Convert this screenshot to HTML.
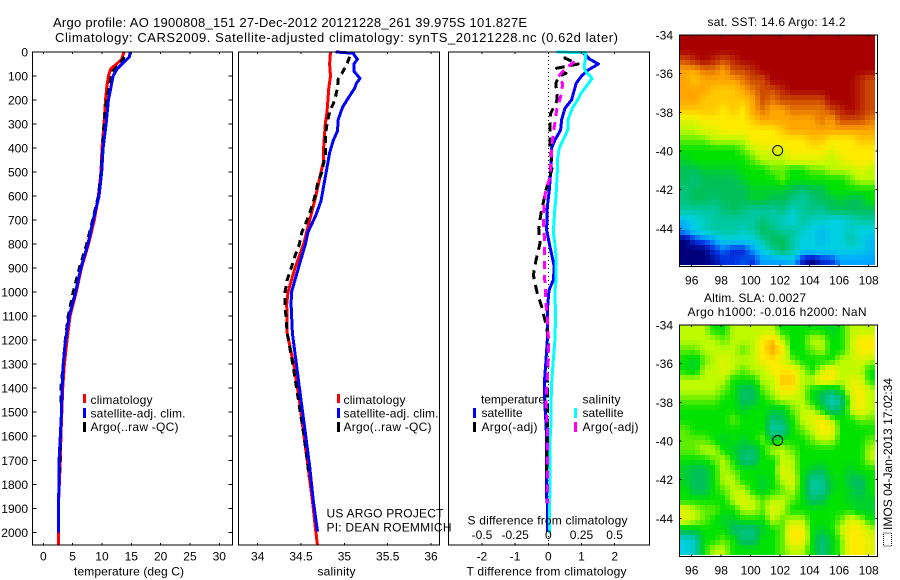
<!DOCTYPE html>
<html lang="en">
<head>
<meta charset="utf-8">
<title>Argo profile</title>
<style>
html,body{margin:0;padding:0;background:#fff;}
#fig{display:block;width:900px;height:580px;font-family:"Liberation Sans",sans-serif;font-size:12px;fill:#000;}
</style>
</head>
<body>
<svg id="fig" xmlns="http://www.w3.org/2000/svg" width="900" height="580" viewBox="0 0 900 580">
<text x="53" y="27" font-size="13" textLength="474">Argo profile: AO 1900808_151 27-Dec-2012 20121228_261 39.975S 101.827E</text>
<text x="55" y="42" font-size="13" textLength="563">Climatology: CARS2009. Satellite-adjusted climatology: synTS_20121228.nc (0.62d later)</text>
<g id="maps"></g>
<g id="series"></g>
<g id="axes"></g>

<g>
<rect x="83" y="394" width="3" height="9" fill="#f00"/>
<rect x="83" y="408" width="3" height="10" fill="#00f"/>
<rect x="83" y="422" width="3" height="10" fill="#000"/>
<text x="90.5" y="404" textLength="62">climatology</text>
<text x="90.5" y="417.5" textLength="95">satellite-adj. clim.</text>
<text x="90.5" y="431" textLength="88">Argo(..raw -QC)</text>
</g>
<g>
<rect x="337" y="394" width="3" height="9" fill="#f00"/>
<rect x="337" y="408" width="3" height="10" fill="#00f"/>
<rect x="337" y="422" width="3" height="10" fill="#000"/>
<text x="343.5" y="404" textLength="62">climatology</text>
<text x="343.5" y="417.5" textLength="95">satellite-adj. clim.</text>
<text x="343.5" y="431" textLength="88">Argo(..raw -QC)</text>
</g>
<g>
<text x="481" y="403.5" textLength="64">temperature</text>
<text x="582.5" y="403.5" textLength="38">salinity</text>
<rect x="473" y="408" width="3" height="10" fill="#00f"/>
<rect x="473" y="422" width="3" height="10" fill="#000"/>
<rect x="574" y="408" width="3" height="10" fill="#0ff"/>
<rect x="574" y="422" width="3" height="10" fill="#f0f"/>
<text x="481.5" y="417" textLength="41">satellite</text>
<text x="481.5" y="431" textLength="56">Argo(-adj)</text>
<text x="582.5" y="417" textLength="41">satellite</text>
<text x="582.5" y="431" textLength="56">Argo(-adj)</text>
</g>

<text x="326.5" y="517.5" textLength="117">US ARGO PROJECT</text>
<text x="326.5" y="531.5" textLength="125">PI: DEAN ROEMMICH</text>
<text x="74" y="575.5" textLength="110">temperature (deg C)</text>
<text x="317.5" y="575.5" textLength="38">salinity</text>
<text x="467.5" y="524.5" textLength="160">S difference from climatology</text>
<text x="466.5" y="575.5" textLength="160">T difference from climatology</text>
<text x="707.5" y="26" textLength="138">sat. SST: 14.6 Argo: 14.2</text>
<text x="704" y="302" textLength="102">Altim. SLA: 0.0027</text>
<text x="687.5" y="316" textLength="179">Argo h1000: -0.016 h2000: NaN</text>
<text transform="translate(892,530) rotate(-90)" x="0" y="0" textLength="152">IMOS 04-Jan-2013 17:02:34</text>
<rect x="883.5" y="533" width="8" height="13" fill="none" stroke="#000" stroke-width="1" stroke-dasharray="1 1"/>
</svg>

<script>
/* ---------- temperature profile data (depth in m, temperature in deg C) ---------- */
const tempClimDepth = [0,30,50,70,100,150,200,300,400,500,600,700,800,900,1000,1100,1200,1300,1400,1500,1600,1700,1800,1900,2000,2055];
const tempClim = [13.75,13.36,12.5,11.5,11.1,10.8,10.6,10.35,10,9.83,9.4,8.7,7.7,6.5,5.6,4.55,4.04,3.6,3.3,3.15,3.0,2.9,2.72,2.55,2.55,2.55];
const tempSatDepth = [0,20,50,70,100,150,200,300,400,500,600,700,800,900,1000,1100,1200,1300,1400,1500,1600,1700,1800,1900,2000];
const tempSat = [14.8,14.7,13.4,12.6,11.9,11.5,11.1,10.7,10.2,9.95,9.5,8.5,7.6,6.4,5.5,4.4,3.8,3.4,3.2,3.1,2.9,2.7,2.68,2.56,2.55];
const tempArgoDepth = [20,50,80,100,150,200,300,400,500,600,700,800,900,1000,1100,1200,1300,1400,1500,1600,1700,1750];
const tempArgo = [13.8,13.0,11.8,11.6,11.2,10.8,10.35,10.1,9.83,9.4,8.4,7.4,6.15,5.1,4.25,3.75,3.4,3.0,3.1,2.95,2.85,2.8];

/* ---------- salinity profile data ---------- */
const salClimDepth = [0,50,100,150,200,250,300,400,460,500,550,600,700,800,900,1000,1050,1171,1310,1449,1588,1727,1865,1997,2055];
const salClim = [34.84,34.83,34.84,34.82,34.81,34.80,34.78,34.76,34.757,34.73,34.70,34.67,34.60,34.53,34.43,34.35,34.335,34.34,34.42,34.48,34.53,34.58,34.63,34.67,34.69];
const salSatDepth = [0,5,30,50,80,110,130,150,200,230,280,330,370,420,500,560,620,680,750,800,900,1000,1050,1171,1310,1449,1588,1727,1865,1997];
const salSat = [34.90,35.10,35.15,35.11,35.11,35.18,35.14,35.12,35.03,34.98,34.93,34.92,34.87,34.83,34.79,34.76,34.73,34.67,34.58,34.55,34.47,34.39,34.385,34.40,34.45,34.50,34.55,34.60,34.64,34.69];
const salArgoDepth = [20,50,90,110,150,200,250,300,350,430,500,550,600,650,700,750,800,850,900,950,1000,1050,1171,1310,1449,1588,1727,1770];
const salArgo = [35.06,35.03,34.97,34.93,34.92,34.89,34.83,34.80,34.78,34.78,34.74,34.69,34.66,34.62,34.57,34.51,34.48,34.43,34.385,34.34,34.315,34.315,34.34,34.41,34.47,34.53,34.58,34.59];

/* ---------- differences from climatology ---------- */
const dTSatDepth = [3,30,50,75,100,130,150,200,235,283,325,367,400,478,575,644,742,811,894,950,992,1061,1144,1200,1283,1380,1477,1547,1616,1755,1853,1894,1999];
const dTSat = [1.05,1.25,1.51,1.2,1.0,0.84,0.8,0.7,0.5,0.4,0.37,0.2,0.1,0.08,0.03,-0.03,-0.05,0.05,0.18,0.15,0.02,-0.02,-0.03,-0.03,-0.07,-0.12,-0.1,-0.07,-0.05,-0.05,-0.05,-0.02,-0.02];
const dTArgoDepth = [19,26,50,68,89,103,131,200,256,325,394,478,519,575,672,735,797,867,929,1006,1061,1144,1200,1283,1380,1500,1650,1755];
const dTArgo = [0.5,0.5,0.9,0.25,0.53,0.3,0.23,0.27,0.07,0.05,0.05,0.12,0.05,-0.07,-0.22,-0.29,-0.25,-0.37,-0.45,-0.33,-0.2,-0.05,0,0,-0.03,-0.02,-0.03,-0.05];
const dSSatDepth = [0,3,30,60,80,110,140,170,200,235,280,320,350,400,450,500,600,650,750,800,850,950,1000,1100,1200,1283,1380,1477,1547,1616,1755,2005];
const dSSat = [0.06,0.28,0.28,0.27,0.28,0.33,0.29,0.25,0.22,0.18,0.15,0.15,0.126,0.083,0.068,0.068,0.058,0.05,0.038,0.05,0.058,0.058,0.05,0.055,0.05,0.038,0.025,0.02,0.02,0.0126,0.0126,0.008];
const dSArgoDepth = [40,68,103,131,172,242,318,381,450,519,589,644,714,783,853,922,985,1047,1117,1186,1283,1380,1450,1547,1616,1755,1880];
const dSArgo = [0.2,0.13,0.075,0.108,0.1,0.063,0.043,0.028,0.02,0.013,-0.023,-0.033,-0.038,-0.028,-0.028,-0.03,-0.023,-0.018,-0.005,0,0,-0.008,-0.018,-0.008,-0.005,-0.005,-0.005];

/* ---------- tick labels ---------- */
const depthTicks = [0,100,200,300,400,500,600,700,800,900,1000,1100,1200,1300,1400,1500,1600,1700,1800,1900,2000];
const tempTicks = [0,5,10,15,20,25,30];
const salTicks = [34,34.5,35,35.5,36];
const dTTicks = [-2,-1,0,1,2];
const dSTicks = [-0.5,-0.25,0,0.25,0.5];
const lonTicks = [96,98,100,102,104,106,108];
const latTicks = [-34,-36,-38,-40,-42,-44];
const argoLon = 101.827;
const argoLat = -39.975;

/* ---------- map grids: each row runs north to south, west to east (colour-scale units) ---------- */
const sstGrid = [
[11,11,11,11,11,11,11,11,11,11,11,11,11,11,11,11,11,11,11,11],
[11,11,11,11,11,11,11,11,11,11,11,11,11,11,11,11,11,11,11,11],
[10,10.5,11,10.5,10,10.5,11,11,11,11,11,11,11,11,11,11,11,11,11,11],
[9,9,9.5,9.5,9,10,10,10.5,11,11,11,11,11,11,11,11,11,11,11,11],
[9,8.5,9,9,9,9,9.5,10,10,11,11,11,11,11,11,11,11,11,10.5,10],
[9,9,9,8.5,8.5,8.5,9,9.5,10,10,10.5,11,11,11,11,11,11,11,10.5,10],
[9,9,8.5,8.5,8.5,8.5,8.5,9,10,9.5,10,10,10,10,10,11,11,11,10.5,10],
[8.5,8.5,8.5,8.5,8,8.5,8,9,9.5,9,9,9.5,9.5,9.5,9.5,10,10.5,11,10.5,10],
[7.5,7.5,8,8,8,8,8,8.5,9,9,9,9,9,9,9.5,9,10,10,10,9.5],
[7,7,7.5,7.5,8,8,8,8,8,8,8.5,9,9,9,9,9,9,9,9,9],
[6.5,6.5,6.5,7,7,7,7,8,8,8,8,8,8,8.5,8.5,8,8,8,8.5,8.5],
[6,6,6,6,6,6,6.5,7,7.5,7.5,7.5,8,8,8,8,7.5,8,8,8,8],
[5.5,6,6,6,6,6,6,6.5,7,7,7,7.5,7.5,7.5,7.5,7,7.5,8,8,8],
[5,5,5.5,5.5,5.5,5.5,6,6,6,6.5,6.5,6,6,6.5,6.5,7,7,7,7.5,7],
[5,4.5,5,5,5,5,5.5,6,6,6,6.5,6,6,6,6,6,6,6.5,7,7],
[4.5,5,5,5,5,5,5,5.5,5.5,5.5,5.5,5,4.5,5,5,6,6,6,6,6],
[4.5,5,5,4.5,5,5,5,5.5,5.5,5,5,4.5,4,4.5,5,5,5.5,5,5,6],
[4,4,4,4,4.5,5,4.5,4,4,4,4.5,3.5,4,4.5,4,5,5,5,5,5],
[2.5,3,3.5,4,4,4,4,4,4.5,4,3.5,3,4,3.5,3.5,3,3,3.5,4,4],
[2,3,3.5,4,4,4,3.5,4,5,4.5,4,4,3.5,3,2.5,3,3,3.5,3,3],
[0,1,1.5,2,3,3,3,3,4,5,5,4,3,3,2.5,3,3,4,3,2.5],
[0,0,0,1,1.5,0.8,0.8,2,3,4,5,4,3,3,3,3,3,3,3,2.5],
[0,0,0,0.3,1,1,1.3,1,2,2,2,2.5,0.8,0,0.8,1,2,2,2,2]
];
const slaGrid = [
[7,7,7,6,6,7,7,7,7,7,6,6,6,6,6,5.5,6,7,7,7],
[7,7,7,7,6.5,7,7,7,8,8.5,7,6,6,7,7,6,6,7,8,8],
[6.5,6.5,7,7,7,7,6.5,7,8,9,8,6,6,6.5,7,6,6,7,8,8],
[6,5.5,6.5,7,7.5,7,7,7,8,8,7.5,6.5,6,6,6,6,7,7,7.5,7],
[6,5.5,7,7,7.5,7,6.5,7,7,8,8,8,7,6,7,8,7,7,7,6],
[7,7,7,7,7,6,6,6,7,7,8.5,8.5,7,7,8,8,7,7.5,7.5,6],
[7,7,7,7,6.5,6,4.8,5,6.5,7,8,8,7,6,5.5,5,6,7.5,8,7],
[6.5,6.5,6.5,6.5,6,6,4.8,5,6,6.5,7,7,7,6,5,3.5,4.2,7,8,7],
[6,6,6,6,6,6,5.5,6,6,5.5,5.5,6.5,7,7,6,4.5,5,7,8,7],
[6,6,6,6,6,6.5,6,6,6,4.5,5,6,7,7.5,8,7,6,6,6.5,6.5],
[6.5,6,6,6,6,6,6,6,6,4,4,6,6.5,7,8,8,6,6,6,6],
[6.5,6.5,6.5,6,5.5,6,5.5,6,6.5,5.5,6,6,6,6.5,7,7,6,6,6,6.5],
[6.5,6.5,7,7,6,5.5,5,4.8,6,7,7,6.5,6,6,6,6,6,6,6,7],
[6,6,6,6.5,7,6,4.5,4.5,6,6,7,7,6,6,6,6,6,6,6,7],
[5.5,5,5,6,7,6.5,6,6,6,6,7.5,7,6,5.5,5,6,6,5.5,6,6],
[5.5,5,5,6,7,7,6,6,5.5,6,7,7.5,6,4.2,4.2,5.5,6,5,4.8,6],
[6,5,5,6,6.5,7,7,6,5.5,6,6.5,7,6,4.2,4,5.5,6,5.5,4.8,6],
[6,6,6,6,6,7,7.5,7,6.5,7,7,6.5,6,4.8,5,6,6,5.5,5.5,5.5],
[7.5,7,6.5,6.5,6,6,7,7,6.5,7.5,7,6,6,6,6,6,6,6,5.5,5.5],
[7.5,7,6.5,6,5.5,5.5,6,6,6,7,6.5,7,7,6,6,6,6.5,7.5,7,6],
[5.5,5.5,6,6,6,4.8,4.5,4.5,5.5,6,6.5,8,8,6,5.5,6,7,8,8,7],
[3,3.5,6,6,6.5,6,4.6,4.6,6,6,6.5,8,8,6,4.5,5.5,6.5,8,8,7.5],
[3,3.5,6,7,7,6,6,6,6,6,6.5,7,7,6,4.5,5.5,6.5,8,8,7.5]
];

/* ---------- colour scale (stop colours, index = grid value) ---------- */
const scaleStops = [[0,0,125],[0,50,225],[0,165,255],[0,208,225],[0,200,160],[0,192,90],[0,226,0],[190,250,0],[255,235,0],[255,165,0],[205,75,0],[168,0,0]];
function scaleColor(v){
  const i = Math.max(0, Math.min(scaleStops.length-2, Math.floor(v)));
  const f = Math.max(0, Math.min(1, v-i));
  const a = scaleStops[i], b = scaleStops[i+1];
  return 'rgb('+a.map((c,k)=>Math.round(c+(b[k]-c)*f)).join(',')+')';
}

/* ---------- scales ---------- */
const frame = {top:52,bottom:545};
const panelT = {left:32.5,right:232.5};
const panelS = {left:238.5,right:439.5};
const panelD = {left:448.5,right:649.5};
const yDepth = d => 52 + 0.24015*d;
const xTemp = t => 43.3 + 5.867*t;
const xSal = s => 257.7 + 86.67*(s-34);
const xDT = v => 548.3 + 33.2*v;
const xDS = v => 548.3 + 132.6*v;
const lonX = lon => 691.7 + 14.75*(lon-96);
const mapSST = {left:680,right:877.5,top:35,bottom:266.5,imgRight:875,imgBottom:265};
const mapSLA = {left:680,right:877.5,top:325,bottom:556.5,imgRight:875,imgBottom:555};
const latY = (m,lat) => m.top + 19.33*(-34-lat);

/* ---------- helpers ---------- */
const NS = 'http://www.w3.org/2000/svg';
function mk(parent,tag,attrs){
  const el = document.createElementNS(NS,tag);
  for(const k in attrs) el.setAttribute(k,attrs[k]);
  parent.appendChild(el);
  return el;
}
function seriesLine(depths,values,xf,color,dash){
  const pts = depths.map((d,i)=>xf(values[i]).toFixed(1)+','+yDepth(d).toFixed(1)).join(' ');
  const attrs = {points:pts,fill:'none',stroke:color,'stroke-width':3,'shape-rendering':'crispEdges','stroke-linejoin':'round'};
  if(dash) attrs['stroke-dasharray']=dash;
  return mk(document.getElementById('series'),'polyline',attrs);
}
function tickLine(x1,y1,x2,y2){
  return mk(document.getElementById('axes'),'line',{x1,y1,x2,y2,stroke:'#000','stroke-width':1,'shape-rendering':'crispEdges'});
}
function label(x,y,anchor,txt){
  const el = mk(document.getElementById('axes'),'text',{x,y,'text-anchor':anchor});
  el.textContent = txt;
  return el;
}

/* ---------- maps: the estimated grid is resampled onto the source image's 5px pixels ---------- */
function sampleGrid(grid,u,w){
  const rows = grid.length, cols = grid[0].length;
  const cf = Math.max(0,Math.min(cols-1,u*cols-0.5));
  const rf = Math.max(0,Math.min(rows-1,w*rows-0.5));
  const c0 = Math.floor(cf), r0 = Math.floor(rf);
  const c1 = Math.min(cols-1,c0+1), r1 = Math.min(rows-1,r0+1);
  const a = cf-c0, b = rf-r0;
  return (grid[r0][c0]*(1-a)+grid[r0][c1]*a)*(1-b)+(grid[r1][c0]*(1-a)+grid[r1][c1]*a)*b;
}
function drawGrid(grid,m){
  const g = document.getElementById('maps');
  const pw = 5, ph = 5;
  const outCols = Math.round((m.imgRight-m.left)/pw), outRows = Math.round((m.imgBottom-m.top)/ph);
  for(let r=0;r<outRows;r++){
    for(let c=0;c<outCols;c++){
      const v = sampleGrid(grid,(c+0.5)/outCols,(r+0.5)/outRows);
      const cell = mk(g,'rect',{x:m.left+c*pw,y:m.top+r*ph,width:pw,height:ph,fill:scaleColor(v),'shape-rendering':'crispEdges'});
      
      
    }
  }
}
drawGrid(sstGrid,mapSST);
drawGrid(slaGrid,mapSLA);

/* ---------- series ---------- */
let s;
s = seriesLine(tempClimDepth,tempClim,xTemp,'#f00');


s = seriesLine(tempArgoDepth,tempArgo,xTemp,'#000','7 5');


s = seriesLine(tempSatDepth,tempSat,xTemp,'#00f');


s = seriesLine(salClimDepth,salClim,xSal,'#f00');


s = seriesLine(salArgoDepth,salArgo,xSal,'#000','7 5');


s = seriesLine(salSatDepth,salSat,xSal,'#00f');


const zeroLine = mk(document.getElementById('series'),'line',{x1:xDT(0),y1:frame.top,x2:xDT(0),y2:frame.bottom,stroke:'#000','stroke-width':1,'stroke-dasharray':'1 3','shape-rendering':'crispEdges'});


s = seriesLine(dTSatDepth,dTSat,xDT,'#00f');


s = seriesLine(dSSatDepth,dSSat,xDS,'#0ff');


s = seriesLine(dTArgoDepth,dTArgo,xDT,'#000','9 6');


s = seriesLine(dSArgoDepth,dSArgo,xDS,'#f0f','8 6');



/* ---------- axes ---------- */
function frameBox(l,t,r,b,name){
  const el = mk(document.getElementById('axes'),'rect',{x:l,y:t,width:r-l,height:b-t,fill:'none',stroke:'#000','stroke-width':1,'shape-rendering':'crispEdges'});
  
  
}
frameBox(panelT.left,frame.top,panelT.right,frame.bottom,'temperature-plot-frame');
frameBox(panelS.left,frame.top,panelS.right,frame.bottom,'salinity-plot-frame');
frameBox(panelD.left,frame.top,panelD.right,frame.bottom,'difference-plot-frame');
frameBox(679.5,mapSST.top,mapSST.right,mapSST.bottom,'sst-map-frame');
frameBox(679.5,mapSLA.top,mapSLA.right,mapSLA.bottom,'sla-map-frame');

depthTicks.forEach(d=>{
  const y = yDepth(d);
  const a = tickLine(panelT.left,y,panelT.left+4,y);
  
  
  const b = tickLine(panelT.right-4,y,panelT.right,y);
  
  
  const t = label(28,y+4.5,'end',String(d));
  
  
});
tempTicks.forEach(v=>{
  const x = xTemp(v);
  const a = tickLine(x,frame.top,x,frame.top+2);
  
  
  const b = tickLine(x,frame.bottom-2,x,frame.bottom);
  
  
  const t = label(x,560.5,'middle',String(v));
  
  
});
salTicks.forEach(v=>{
  const x = xSal(v);
  const a = tickLine(x,frame.top,x,frame.top+2);
  
  
  const b = tickLine(x,frame.bottom-2,x,frame.bottom);
  
  
  const t = label(x,560.5,'middle',String(v));
  
  
});
dTTicks.forEach(v=>{
  const x = xDT(v);
  const a = tickLine(x,frame.top,x,frame.top+2);
  
  
  const b = tickLine(x,frame.bottom-2,x,frame.bottom);
  
  
  const t = label(x,560.5,'middle',String(v));
  
  
});
dSTicks.forEach(v=>{
  const t = label(xDS(v),539,'middle',String(v));
  
  
});
[mapSST,mapSLA].forEach(m=>{
  lonTicks.forEach(v=>{
    const x = lonX(v);
    const a = tickLine(x,m.top,x,m.top+2);
    
    
    const b = tickLine(x,m.bottom-2,x,m.bottom);
    
    
    const t = label(x,m.bottom+18,'middle',String(v));
    
    
  });
  latTicks.forEach(v=>{
    const y = latY(m,v);
    const a = tickLine(679.5,y,681.5,y);
    
    
    const b = tickLine(m.right-2,y,m.right,y);
    
    
    const t = label(673,y+4.5,'end',String(v));
    
    
  });
  const c = mk(document.getElementById('axes'),'circle',{cx:lonX(argoLon),cy:latY(m,argoLat),r:5,fill:'none',stroke:'#000','stroke-width':1});
  
  
});
</script>
</body>
</html>
